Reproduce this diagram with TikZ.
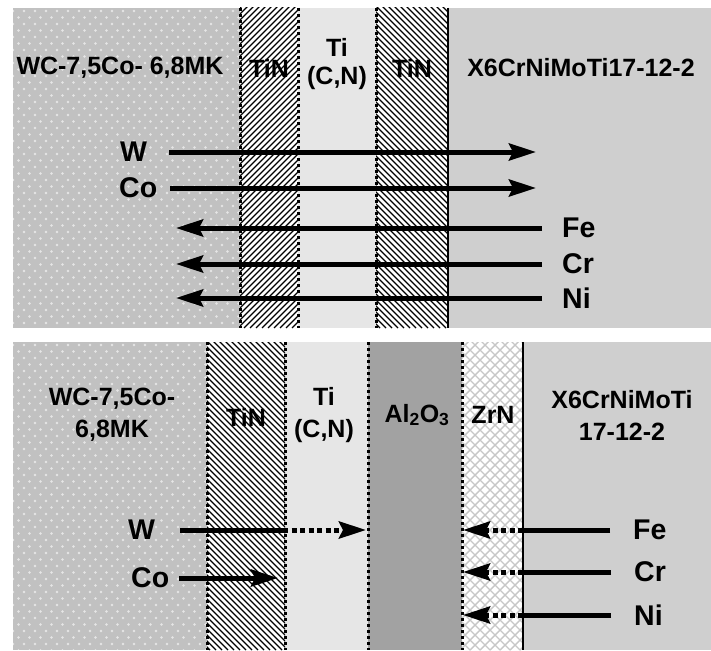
\documentclass[tikz,border=0pt]{standalone}
\usepackage{fontspec}
\setmainfont{Liberation Sans}
\usetikzlibrary{arrows.meta}
\definecolor{carbide}{HTML}{C1C1C1}
\definecolor{steel}{HTML}{CFCFCF}
\definecolor{ticn}{HTML}{E6E6E6}
\definecolor{alox}{HTML}{A2A2A2}
\tikzset{
  lbl/.style={font=\fontsize{25}{28}\selectfont\bfseries, align=center, inner sep=0pt},
  lbltwo/.style={lbl, font=\fontsize{25}{32}\selectfont\bfseries},
  elem/.style={font=\fontsize{28.5}{30}\selectfont\bfseries, inner sep=0pt},
  shaft/.style={line width=5pt},
  flux/.style={shaft, -{Stealth[length=27pt, width=17pt, inset=4pt]}},
  dflux/.style={flux, dash pattern=on 5pt off 3.5pt},
  seam/.style={line width=3pt, dash pattern=on 3pt off 3pt},
  wall/.style={line width=2.8pt},
  hatch/.style={line width=1.3pt},
  cross/.style={line width=1.4pt, black!22}}

\begin{document}
\begin{tikzpicture}[x=1pt, y=-1pt]
  \useasboundingbox (0,0) rectangle (711,650);
  % top: two-layer coating
  \fill[carbide] (13,8) rectangle (240,328);
  \fill[white] (240,8) rectangle (298,328);
  \fill[ticn] (298,8) rectangle (376,328);
  \fill[white] (376,8) rectangle (448,328);
  \fill[steel] (448,8) rectangle (711,328);
  \begin{scope}
    \clip (13,8) rectangle (240,328);
    \foreach \j in {0,...,49} \foreach \i in {0,...,21}
      \fill[white, opacity=0.6] ({13+11*\i+5.5*mod(\j,2)},{11+6.5*\j}) circle[radius=1.3pt];
  \end{scope}
  \begin{scope}
    \clip (240,8) rectangle (298,328);
    \foreach \x in {-86,-80,...,300} \draw[hatch] (\x,328) -- ++(330,-330);
  \end{scope}
  \begin{scope}
    \clip (376,8) rectangle (448,328);
    \foreach \x in {374,380,...,780} \draw[hatch] (\x,328) -- ++(-330,-330);
  \end{scope}
  \draw[seam] (240,8) -- (240,328); \draw[seam] (298,8) -- (298,328);
  \draw[seam] (376,8) -- (376,328); \draw[wall] (448,8) -- (448,328);

  \node[lbl] (sub1) at (120,68) {WC-7,5Co- 6,8MK};
  \node[lbl] (tin1) at (269,68) {TiN};
  \node[lbl] (tic1) at (337,64) {Ti\\(C,N)};
  \node[lbl] (tin2) at (412,68) {TiN};
  \node[lbl] (stl1) at (581,68) {X6CrNiMoTi17-12-2};

  \node[elem, anchor=west] (W1) at (120,152) {W};
  \node[elem, anchor=west] (Co1) at (119,188) {Co};
  \node[elem, anchor=west] (Fe1) at (562,228) {Fe};
  \node[elem, anchor=west] (Cr1) at (562,264) {Cr};
  \node[elem, anchor=west] (Ni1) at (562,298) {Ni};
  \coordinate (W1e) at (536,152); \coordinate (Co1e) at (536,188);
  \coordinate (Fe1e) at (176,228); \coordinate (Cr1e) at (176,264); \coordinate (Ni1e) at (176,298);
  \draw[flux] ([xshift=22pt]W1.east) -- (W1e);
  \draw[flux] ([xshift=13pt]Co1.east) -- (Co1e);
  \foreach \e in {Fe1,Cr1,Ni1} \draw[flux] ([xshift=-20pt]\e.west) -- (\e e);

  % bottom: four-layer coating
  \fill[carbide] (13,342) rectangle (207,650);
  \fill[white] (207,342) rectangle (285,650);
  \fill[ticn] (285,342) rectangle (368,650);
  \fill[alox] (368,342) rectangle (462,650);
  \fill[white] (462,342) rectangle (523,650);
  \fill[steel] (523,342) rectangle (711,650);
  \begin{scope}
    \clip (13,342) rectangle (207,650);
    \foreach \j in {0,...,47} \foreach \i in {0,...,18}
      \fill[white, opacity=0.6] ({13+11*\i+5.5*mod(\j,2)},{345+6.5*\j}) circle[radius=1.3pt];
  \end{scope}
  \begin{scope}
    \clip (207,342) rectangle (285,650);
    \foreach \x in {204,210,...,600} \draw[hatch] (\x,650) -- ++(-320,-320);
  \end{scope}
  \begin{scope}
    \clip (462,342) rectangle (523,650);
    \foreach \x in {140,150,...,850} {
      \draw[cross] (\x,650) -- ++(-320,-320);
      \draw[cross] (\x,650) -- ++(320,-320);}
  \end{scope}
  \draw[seam] (207,342) -- (207,650); \draw[seam] (285,342) -- (285,650);
  \draw[seam] (368,342) -- (368,650); \draw[seam] (462,342) -- (462,650);
  \draw[wall] (523,342) -- (523,650);

  \node[lbltwo] (sub2) at (112,415) {WC-7,5Co-\\6,8MK};
  \node[lbl] (tin3) at (246,417) {TiN};
  \node[lbltwo] (tic2) at (324,415) {Ti\\(C,N)};
  \node[lbl] (alo2) at (417,415) {Al\textsubscript{2}O\textsubscript{3}};
  \node[lbl] (zrn2) at (493,415) {ZrN};
  \node[lbltwo] (stl2) at (622,415) {X6CrNiMoTi\\17-12-2};

  \node[elem, anchor=west] (W2) at (128,530) {W};
  \node[elem, anchor=west] (Co2) at (131,578) {Co};
  \node[elem, anchor=west] (Fe2) at (633,530) {Fe};
  \node[elem, anchor=west] (Cr2) at (634,572) {Cr};
  \node[elem, anchor=west] (Ni2) at (634,615) {Ni};
  \coordinate (W2m) at (283,530); \coordinate (W2e) at (366,530);
  \coordinate (Co2e) at (278,578);
  \draw[shaft] ([xshift=25pt]W2.east) -- (W2m);
  \draw[dflux] (W2m) -- (W2e);
  \draw[flux] ([xshift=10pt]Co2.east) -- (Co2e);
  \foreach \e/\y in {Fe2/530,Cr2/572,Ni2/615} {
    \coordinate (\e m) at (523,\y); \coordinate (\e e) at (463,\y);
    \draw[shaft] ([xshift=-23pt]\e.west) -- (\e m);
    \draw[dflux] (\e m) -- (\e e);}
\end{tikzpicture}
\end{document}
